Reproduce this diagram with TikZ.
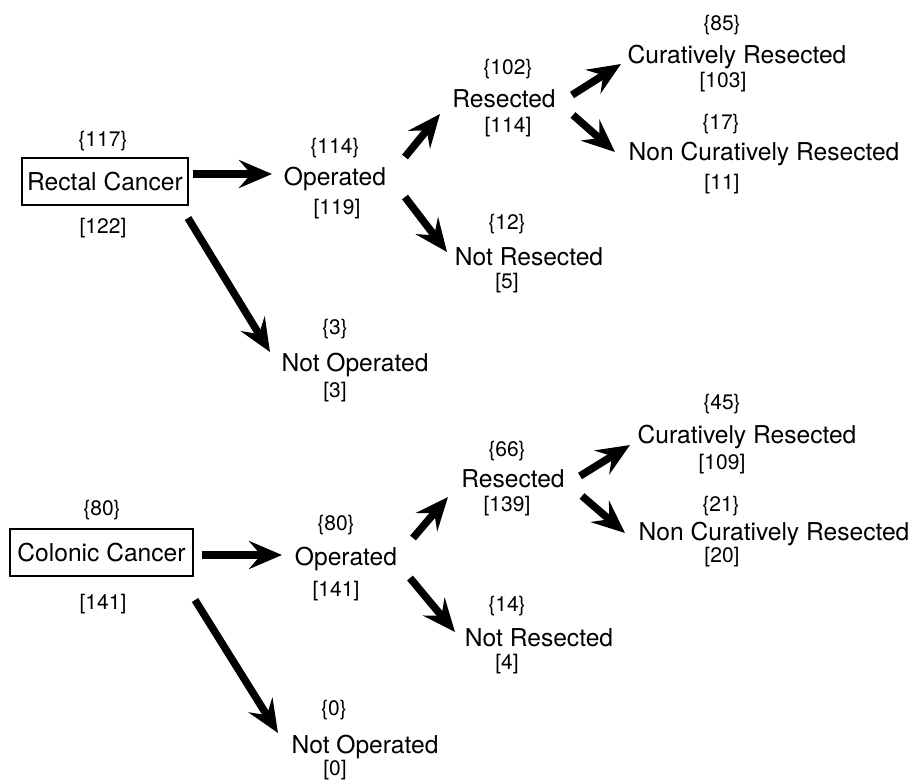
\documentclass[tikz,border=0pt]{standalone}
\usepackage{fontspec}
\setmainfont{TeX Gyre Heros}
\usetikzlibrary{arrows.meta}
\begin{document}
\begin{tikzpicture}[x=1pt,y=-1pt,
  lab/.style={font=\fontsize{24.6}{28}\selectfont, inner sep=0pt, anchor=base},
  num/.style={font=\fontsize{21}{24}\selectfont, inner sep=0pt, anchor=base},
  boxed/.style={draw, line width=1.3pt, inner sep=0pt, minimum height=47pt, font=\fontsize{24.6}{28}\selectfont, anchor=center},
  arr/.style={line width=7.5pt, -{Stealth[length=33pt,width=28pt,inset=12pt]}}]
\useasboundingbox (0,0) rectangle (914,782);

% ---------- Rectal ----------
\node[boxed, minimum width=166pt] (rc) at (105,181.5) {Rectal Cancer};
\node[num] (rcT) at (103,146) {\{117\}};
\node[num] (rcB) at (103,233.5) {[122]};

\node[num] (roT) at (335,153.5) {\{114\}};
\node[lab] (ro) at (335,185) {Operated};
\node[num] (roB) at (337,214.5) {[119]};

\node[num] (rnT) at (335,334.5) {\{3\}};
\node[lab] (rn) at (355,371) {Not Operated};
\node[num] (rnB) at (335,397.5) {[3]};

\node[num] (rrT) at (508,74.5) {\{102\}};
\node[lab] (rr) at (504,107) {Resected};
\node[num] (rrB) at (508,132.5) {[114]};

\node[num] (rxT) at (507,229.5) {\{12\}};
\node[lab] (rx) at (529,265) {Not Resected};
\node[num] (rxB) at (507,288.5) {[5]};

\node[num] (rcrT) at (722,30.5) {\{85\}};
\node[lab] (rcr) at (737,63) {Curatively Resected};
\node[num] (rcrB) at (723,87.5) {[103]};

\node[num] (rncT) at (721,129.5) {\{17\}};
\node[lab] (rnc) at (764,160) {Non Curatively Resected};
\node[num] (rncB) at (722,189.5) {[11]};

\coordinate (a1s) at (193,174); \coordinate (a1e) at (272,174);
\coordinate (a2s) at (188,218); \coordinate (a2e) at (270,352);
\coordinate (a3s) at (405,157); \coordinate (a3e) at (440,114);
\coordinate (a4s) at (405,197); \coordinate (a4e) at (447,252);
\coordinate (a5s) at (572,95);  \coordinate (a5e) at (621,64);
\coordinate (a6s) at (573,115); \coordinate (a6e) at (615,152);
\draw[arr] (a1s) -- (a1e);
\draw[arr] (a2s) -- (a2e);
\draw[arr] (a3s) -- (a3e);
\draw[arr] (a4s) -- (a4e);
\draw[arr] (a5s) -- (a5e);
\draw[arr] (a6s) -- (a6e);

% ---------- Colonic ----------
\node[boxed, minimum width=183pt] (cc) at (101.5,552.5) {Colonic Cancer};
\node[num] (ccT) at (102,515.5) {\{80\}};
\node[num] (ccB) at (103,609.5) {[141]};

\node[num] (coT) at (336,530.5) {\{80\}};
\node[lab] (co) at (346,565) {Operated};
\node[num] (coB) at (336,596.5) {[141]};

\node[num] (cnT) at (334,715.5) {\{0\}};
\node[lab] (cn) at (365,753) {Not Operated};
\node[num] (cnB) at (335,775.5) {[0]};

\node[num] (crT) at (507,456.5) {\{66\}};
\node[lab] (cr) at (513,487) {Resected};
\node[num] (crB) at (507,511.5) {[139]};

\node[num] (cxT) at (507,611.5) {\{14\}};
\node[lab] (cx) at (539,646) {Not Resected};
\node[num] (cxB) at (507,669.5) {[4]};

\node[num] (ccrT) at (722,409.5) {\{45\}};
\node[lab] (ccr) at (747,443) {Curatively Resected};
\node[num] (ccrB) at (722,469.5) {[109]};

\node[num] (cncT) at (721,511.5) {\{21\}};
\node[lab] (cnc) at (774,540) {Non Curatively Resected};
\node[num] (cncB) at (722,562.5) {[20]};

\coordinate (b1s) at (202,555); \coordinate (b1e) at (282,555);
\coordinate (b2s) at (195,600); \coordinate (b2e) at (278,733);
\coordinate (b3s) at (413,538); \coordinate (b3e) at (448,497);
\coordinate (b4s) at (410,578); \coordinate (b4e) at (455,632);
\coordinate (b5s) at (580,476); \coordinate (b5e) at (630,445);
\coordinate (b6s) at (582,496); \coordinate (b6e) at (625,533);
\draw[arr] (b1s) -- (b1e);
\draw[arr] (b2s) -- (b2e);
\draw[arr] (b3s) -- (b3e);
\draw[arr] (b4s) -- (b4e);
\draw[arr] (b5s) -- (b5e);
\draw[arr] (b6s) -- (b6e);
\end{tikzpicture}
\end{document}
